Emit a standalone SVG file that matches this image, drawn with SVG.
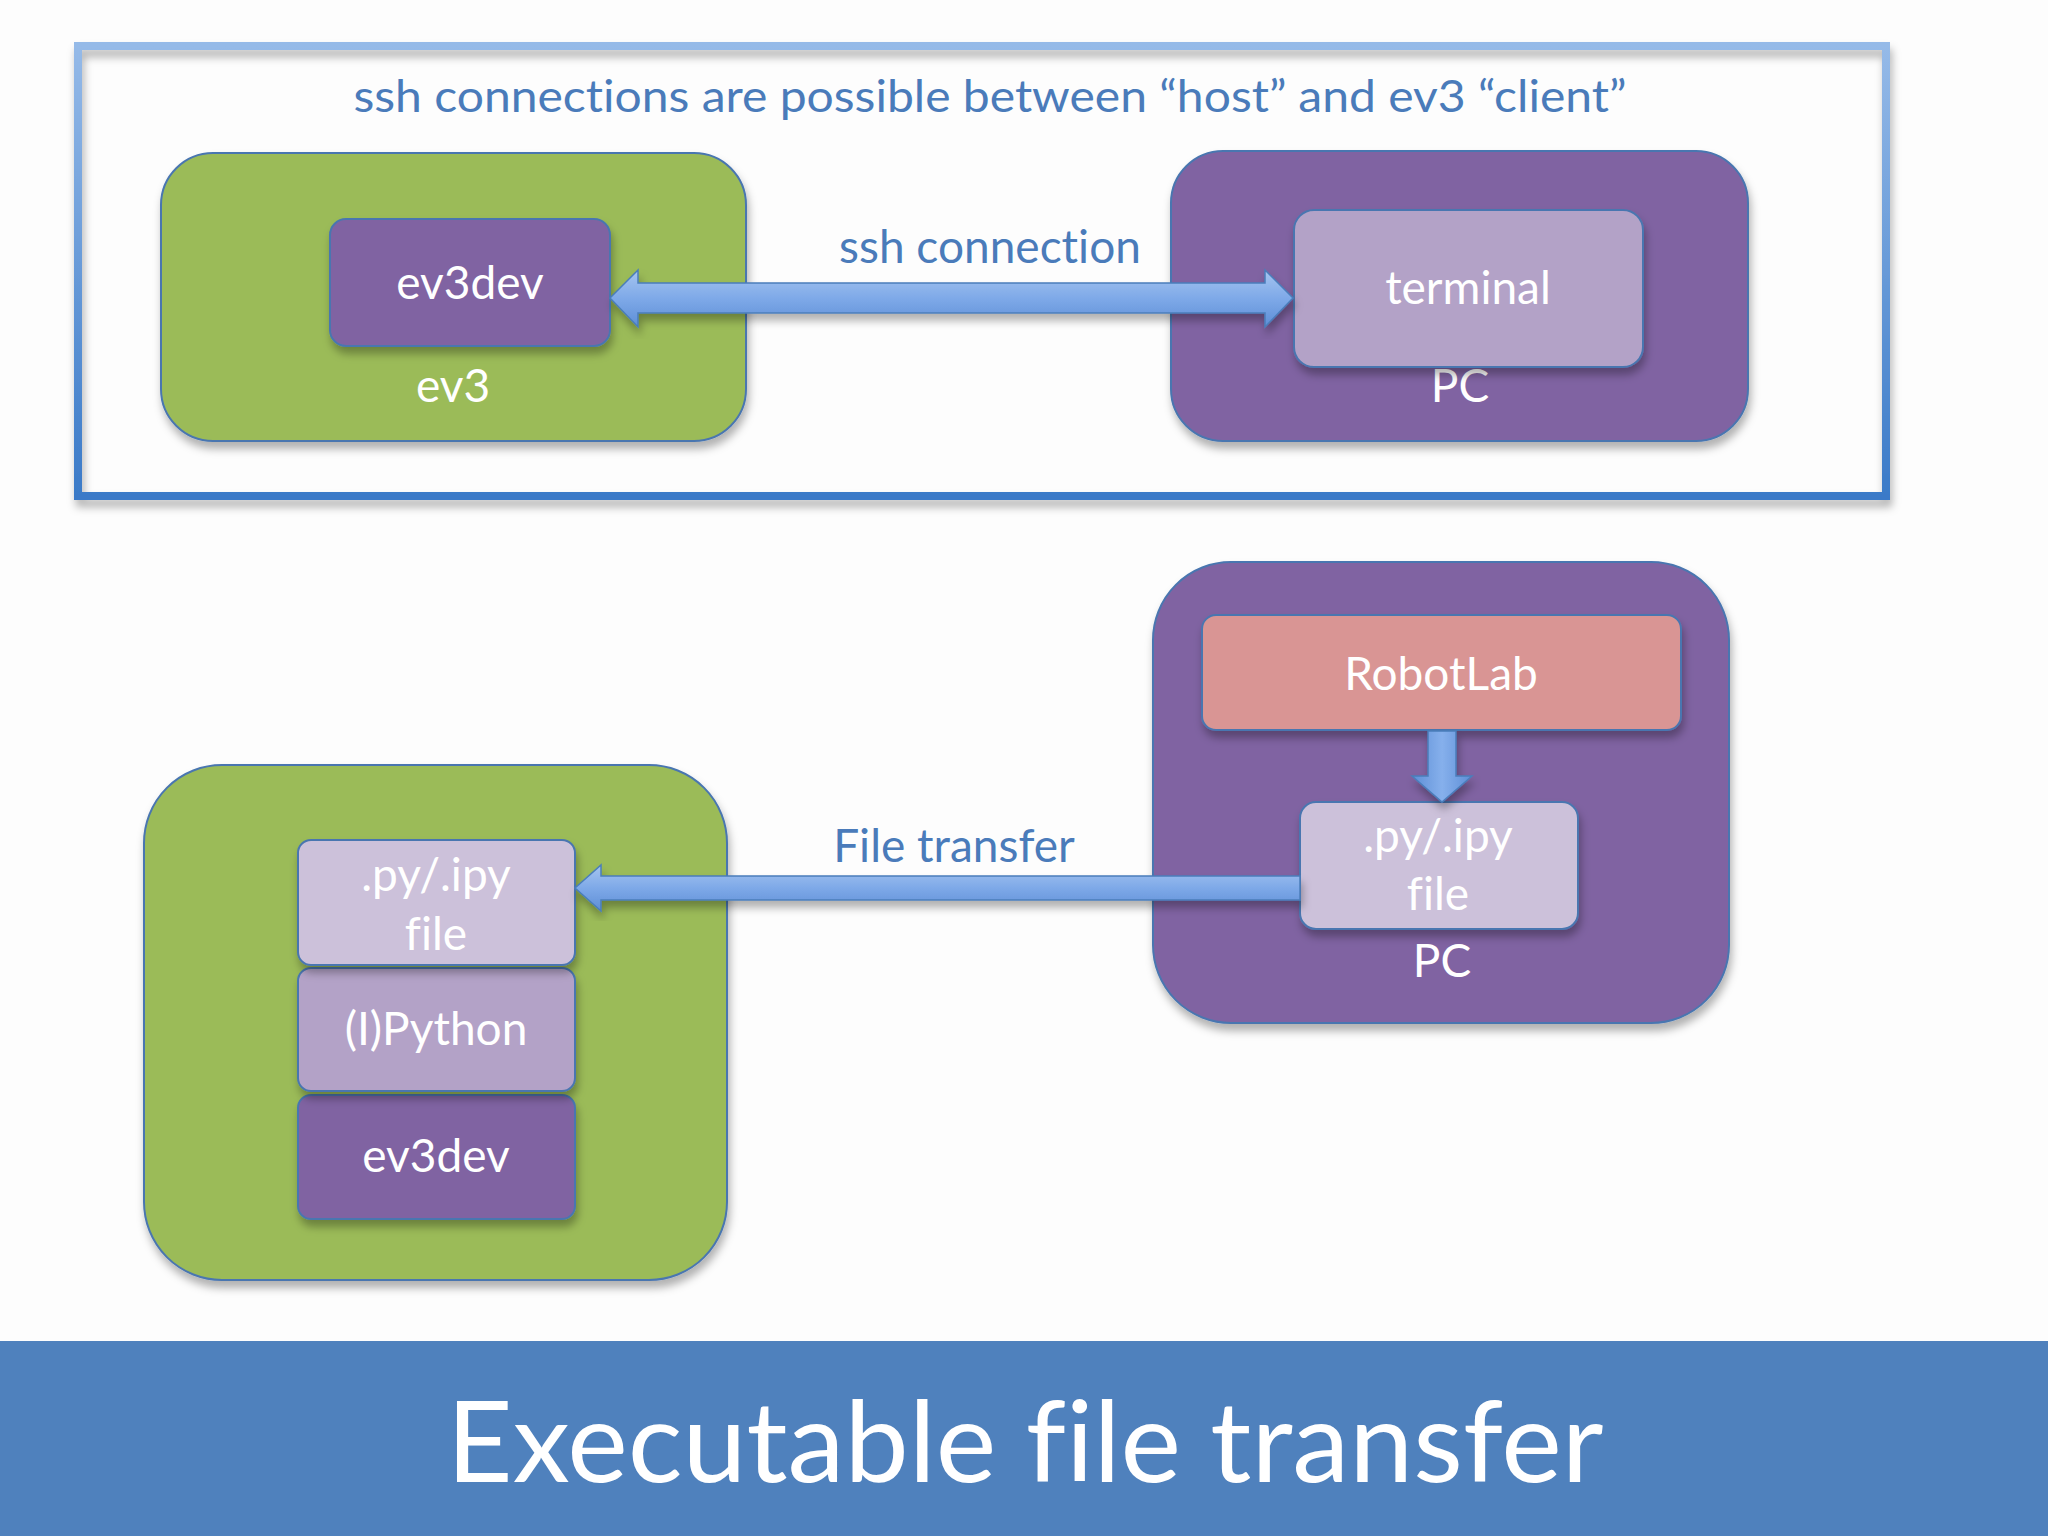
<svg xmlns="http://www.w3.org/2000/svg" width="2048" height="1536" viewBox="0 0 2048 1536">
<defs>
<filter id="sh" x="-10%" y="-10%" width="125%" height="130%">
<feDropShadow dx="2" dy="7" stdDeviation="4" flood-color="#000" flood-opacity="0.3"/>
</filter>
<linearGradient id="frameG" x1="0" y1="0" x2="0" y2="1">
<stop offset="0" stop-color="#95BAE8"/>
<stop offset="1" stop-color="#3A7AC8"/>
</linearGradient>
<linearGradient id="arrG" x1="0" y1="0" x2="0" y2="1">
<stop offset="0" stop-color="#A6C5F0"/>
<stop offset="0.5" stop-color="#7EA9E8"/>
<stop offset="1" stop-color="#5D8ED6"/>
</linearGradient>
<linearGradient id="arrV" x1="0" y1="0" x2="1" y2="0">
<stop offset="0" stop-color="#5D8ED6"/>
<stop offset="0.5" stop-color="#86B0EC"/>
<stop offset="1" stop-color="#5D8ED6"/>
</linearGradient>
</defs>
<style>
text{font-variant-ligatures:none;font-feature-settings:"liga" 0,"clig" 0}
.lbl{font-family:Lato,"Open Sans","Liberation Sans",sans-serif;font-size:46px;fill:#FFFFFF;text-anchor:middle}
.blue{font-family:Lato,"Open Sans","Liberation Sans",sans-serif;font-size:46px;fill:#4A7BBA;text-anchor:middle}
.green{fill:#9BBB59;stroke:#4A76B0;stroke-width:2}
.purple{fill:#8064A2;stroke:#4A76B0;stroke-width:2}
.lilac{fill:#B3A2C7;stroke:#4A76B0;stroke-width:2}
.pale{fill:#CCC1DA;stroke:#4A76B0;stroke-width:2}
.rose{fill:#D99594;stroke:#4A76B0;stroke-width:2}
.arrow{fill:url(#arrG);stroke:#4A7EBB;stroke-width:1.5}
</style>
<rect width="2048" height="1536" fill="#FDFDFD"/>

<g id="frame">
<rect x="78" y="46" width="1808" height="450" fill="none" stroke="url(#frameG)" stroke-width="8" filter="url(#sh)"/>
<text class="blue" x="990" y="112" textLength="1273" lengthAdjust="spacingAndGlyphs" style="font-size:44px">ssh connections are possible between “host” and ev3 “client”</text>
</g>

<g id="ev3-top">
<rect class="green" x="161" y="153" width="585" height="288" rx="52" filter="url(#sh)"/>
<text class="lbl" x="453" y="402">ev3</text>
</g>
<g id="ev3dev-top">
<rect class="purple" x="330" y="219" width="280" height="127" rx="16" filter="url(#sh)"/>
<text class="lbl" x="470" y="299">ev3dev</text>
</g>
<g id="pc-top">
<rect class="purple" x="1171" y="151" width="577" height="290" rx="52" filter="url(#sh)"/>
<text class="lbl" x="1460" y="402">PC</text>
</g>
<g id="terminal">
<rect class="lilac" x="1294" y="210" width="349" height="157" rx="20" filter="url(#sh)"/>
<text class="lbl" x="1468" y="304">terminal</text>
</g>

<g id="ev3-bottom">
<rect class="green" x="144" y="765" width="583" height="515" rx="78" filter="url(#sh)"/>
</g>
<g id="pc-bottom">
<rect class="purple" x="1153" y="562" width="576" height="461" rx="78" filter="url(#sh)"/>
<text class="lbl" x="1442" y="977">PC</text>
</g>
<g id="robotlab">
<rect class="rose" x="1202" y="615" width="479" height="115" rx="14" filter="url(#sh)"/>
<text class="lbl" x="1441" y="690">RobotLab</text>
</g>
<g id="file-pc">
<rect class="pale" x="1300" y="802" width="278" height="127" rx="16" filter="url(#sh)"/>
<text class="lbl" x="1438" y="852">.py/.ipy</text>
<text class="lbl" x="1438" y="910">file</text>
</g>
<g id="ev3dev-bottom">
<rect class="purple" x="298" y="1095" width="277" height="124" rx="13" filter="url(#sh)"/>
<text class="lbl" x="436" y="1172">ev3dev</text>
</g>
<g id="python">
<rect class="lilac" x="298" y="968" width="277" height="123" rx="13" filter="url(#sh)"/>
<text class="lbl" x="436" y="1045">(I)Python</text>
</g>
<g id="file-ev3">
<rect class="pale" x="298" y="840" width="277" height="125" rx="13" filter="url(#sh)"/>
<text class="lbl" x="436" y="891">.py/.ipy</text>
<text class="lbl" x="436" y="950">file</text>
</g>

<g id="connectors">
<path class="arrow" filter="url(#sh)" d="M610,298 L638,270 L638,283 L1265,283 L1265,270 L1293,298 L1265,327 L1265,313 L638,313 L638,327 Z"/>
<text class="blue" x="990" y="263">ssh connection</text>
<path class="arrow" filter="url(#sh)" d="M575,888 L601,865 L601,876 L1300,876 L1300,900 L601,900 L601,911 Z"/>
<text class="blue" x="954" y="862">File transfer</text>
<path fill="url(#arrV)" stroke="#4A7EBB" stroke-width="1.5" filter="url(#sh)" d="M1428,731 L1456,731 L1456,776 L1472,776 L1442,802 L1412,776 L1428,776 Z"/>
</g>

<g id="banner">
<rect x="0" y="1341" width="2048" height="195" fill="#4F81BD"/>
<text x="1025" y="1482" text-anchor="middle" fill="#FFFFFF" style="font-family:Lato,'Open Sans','Liberation Sans',sans-serif;font-size:113px" textLength="1157" lengthAdjust="spacingAndGlyphs">Executable file transfer</text>
</g>
</svg>
